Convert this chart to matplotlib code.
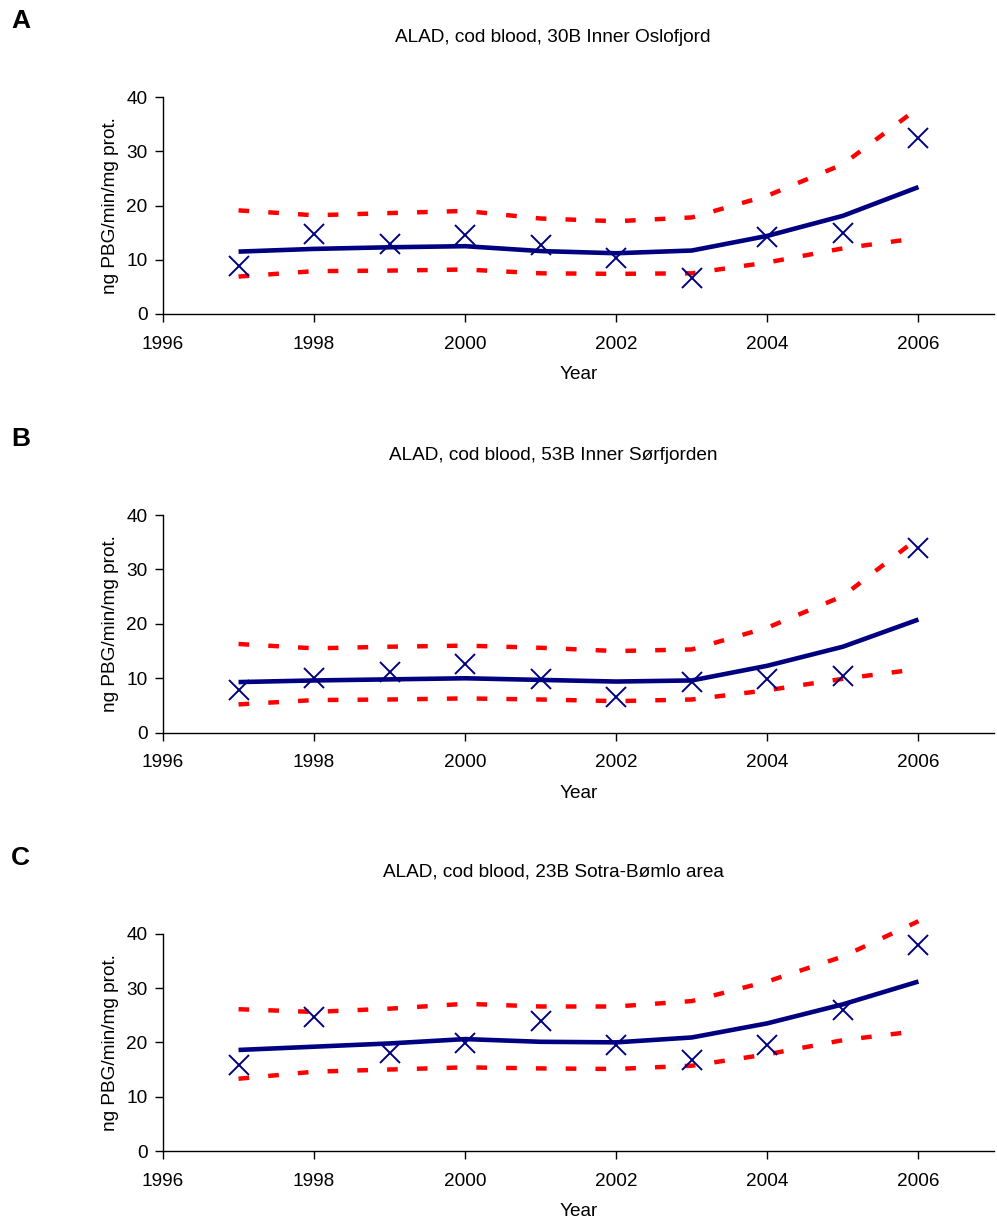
import matplotlib.pyplot as plt

plt.rcParams['font.family'] = ['Liberation Sans', 'DejaVu Sans']

years = [1997, 1998, 1999, 2000, 2001, 2002, 2003, 2004, 2005, 2006]

# panel A - 30B Inner Oslofjord
obs_a = [8.9, 14.7, 12.9, 14.5, 12.8, 10.3, 6.7, 14.2, 15.0, 32.4]
fit_a = [11.5, 12.0, 12.3, 12.5, 11.6, 11.2, 11.7, 14.4, 18.1, 23.4]
upper_a = [19.1, 18.2, 18.6, 19.0, 17.6, 17.1, 17.8, 21.8, 27.6, 38.0]
lower_a = [6.9, 7.9, 8.0, 8.2, 7.5, 7.4, 7.5, 9.5, 12.1, 14.0]

# panel B - 53B Inner Sørfjorden
obs_b = [7.8, 10.1, 11.2, 12.7, 9.8, 6.6, 9.3, 9.9, 10.4, 33.9]
fit_b = [9.3, 9.6, 9.8, 10.0, 9.7, 9.4, 9.6, 12.3, 15.8, 20.8]
upper_b = [16.3, 15.5, 15.8, 16.0, 15.6, 15.0, 15.3, 19.3, 25.1, 35.8]
lower_b = [5.2, 6.0, 6.1, 6.3, 6.1, 5.8, 6.1, 7.8, 9.9, 11.7]

# panel C - 23B Sotra-Bømlo area
obs_c = [15.8, 24.7, 18.0, 19.8, 23.9, 19.5, 16.7, 19.6, 26.0, 38.0]
fit_c = [18.6, 19.2, 19.8, 20.6, 20.1, 20.0, 20.9, 23.5, 27.0, 31.2]
upper_c = [26.1, 25.6, 26.2, 27.1, 26.6, 26.6, 27.6, 31.2, 35.8, 42.3]
lower_c = [13.3, 14.6, 15.0, 15.4, 15.2, 15.1, 15.7, 17.8, 20.4, 22.1]

letters = ['A', 'B', 'C']
titles = ['ALAD, cod blood, 30B Inner Oslofjord',
          'ALAD, cod blood, 53B Inner Sørfjorden',
          'ALAD, cod blood, 23B Sotra-Bømlo area']
panels = [(obs_a, fit_a, upper_a, lower_a),
          (obs_b, fit_b, upper_b, lower_b),
          (obs_c, fit_c, upper_c, lower_c)]

W, H = 997, 1223
fig = plt.figure(figsize=(W / 100, H / 100), dpi=100)

# pixel rows of y=0 and y=40 for each panel, and of the letters / titles
zero_rows = [314, 732.7, 1151]
top_rows = [97, 515, 933.7]
letter_rows = [21, 439, 858]
title_rows = [37, 455, 872]

navy = '#000080'
red = '#ff0000'
fs = 13.7

for i in range(3):
    obs, fit, upper, lower = panels[i]
    bottom = (H - zero_rows[i]) / H
    height = (zero_rows[i] - top_rows[i]) / H
    ax = fig.add_axes([163 / W, bottom, (994 - 163) / W, height])

    ax.plot(years, upper, color=red, lw=3.2, dashes=(2.4, 4.3),
            dash_capstyle='butt', clip_on=False)
    ax.plot(years, lower, color=red, lw=3.2, dashes=(2.4, 4.3),
            dash_capstyle='butt', clip_on=False)
    ax.plot(years, fit, color=navy, lw=3.3, solid_capstyle='butt')
    ax.plot(years, obs, linestyle='none', marker='x', color=navy,
            markersize=15, markeredgewidth=1.4, clip_on=False)

    ax.set_xlim(1996, 2007)
    ax.set_ylim(0, 40)
    ax.set_xticks([1996, 1998, 2000, 2002, 2004, 2006])
    ax.set_yticks([0, 10, 20, 30, 40])
    ax.spines['top'].set_visible(False)
    ax.spines['right'].set_visible(False)
    for s in ['left', 'bottom']:
        ax.spines[s].set_linewidth(1.0)
    ax.tick_params(direction='out', length=6, width=1.0, labelsize=fs)
    ax.tick_params(axis='x', pad=9.5)
    ax.tick_params(axis='y', pad=5)
    ax.set_xlabel('Year', fontsize=fs, labelpad=10)
    ax.set_ylabel('ng PBG/min/mg prot.', fontsize=fs, labelpad=5.5)

    fig.text(11 / W, 1 - letter_rows[i] / H, letters[i], fontsize=19,
             fontweight='bold', ha='left', va='center')
    fig.text(553 / W, 1 - title_rows[i] / H, titles[i], fontsize=fs,
             ha='center', va='center')

plt.savefig('out.png', dpi=100)
